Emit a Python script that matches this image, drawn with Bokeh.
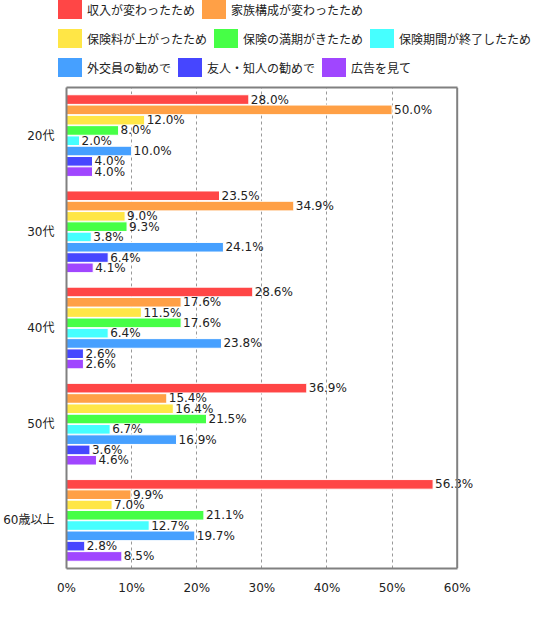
from bokeh.plotting import figure
from bokeh.layouts import column
from bokeh.core.properties import value
from bokeh.models import (ColumnDataSource, FactorRange, FixedTicker, Div,
                          PrintfTickFormatter, LinearAxis, Span)
from bokeh.transform import dodge
from bokeh.embed import file_html
from bokeh.resources import INLINE

FONT = "Noto Sans CJK JP"
NUM_FONT = "DejaVu Sans, Noto Sans CJK JP"

# age groups, top to bottom
ages = ["20代", "30代", "40代", "50代", "60歳以上"]

reasons = ["収入が変わったため", "家族構成が変わったため", "保険料が上がったため",
           "保険の満期がきたため", "保険期間が終了したため", "外交員の勧めで",
           "友人・知人の勧めで", "広告を見て"]
colors = ["#FF4646", "#FFA046", "#FFE646", "#46FF46", "#46FFFF", "#46A0FF",
          "#4646FF", "#A046FF"]

# percent values per reason, in the order of ages
income = [28.0, 23.5, 28.6, 36.9, 56.3]
family = [50.0, 34.9, 17.6, 15.4, 9.9]
premium = [12.0, 9.0, 11.5, 16.4, 7.0]
maturity = [8.0, 9.3, 17.6, 21.5, 21.1]
term_end = [2.0, 3.8, 6.4, 6.7, 12.7]
agent = [10.0, 24.1, 23.8, 16.9, 19.7]
friend = [4.0, 6.4, 2.6, 3.6, 2.8]
advert = [4.0, 4.1, 2.6, 4.6, 8.5]
series = [income, family, premium, maturity, term_end, agent, friend, advert]

x_ticks = [0, 10, 20, 30, 40, 50, 60]
legend_rows = [[0, 1], [2, 3, 4], [5, 6, 7]]
GRAY = "#808080"
TXT = "#222222"

# legend block (html), three rows like the original
rows_html = ""
for row in legend_rows:
    items = ""
    for k in row:
        items += ('<span style="display:inline-flex;align-items:center;'
                  'margin-right:7px;"><span style="display:inline-block;'
                  'width:24px;height:19px;background:%s;margin-right:5px;">'
                  '</span>%s</span>' % (colors[k], reasons[k]))
    rows_html += ('<div style="display:flex;align-items:center;height:19px;'
                  'margin-bottom:10px;white-space:nowrap;">%s</div>' % items)
legend = Div(text=('<div style="padding-left:58px;font-family:\'%s\';'
                   'font-size:12px;color:%s;line-height:19px;">%s</div>'
                   % (FONT, TXT, rows_html)),
             width=534, height=78, margin=0)

# main chart; x range runs a bit past 60% so the value labels are not clipped
p = figure(width=534, height=519, output_backend="svg", toolbar_location=None,
           y_range=FactorRange(factors=ages[::-1]), x_range=(0, 64.5),
           min_border_left=58, min_border_right=48, min_border_top=9,
           min_border_bottom=20, margin=0)

step = 0.107
for i, (name, vals, col) in enumerate(zip(reasons, series, colors)):
    src = ColumnDataSource(dict(age=ages, val=vals,
                                lab=["%.1f%%" % v for v in vals]))
    off = (3.5 - i) * step
    p.hbar(y=dodge("age", off, range=p.y_range), right="val", left=0,
           height=0.1, source=src, fill_color=col, line_color="white",
           line_width=1)
    p.text(x="val", y=dodge("age", off, range=p.y_range), text="lab",
           source=src, x_offset=2, text_baseline="middle",
           text_font_size="12px", text_color=TXT, text_font=value(NUM_FONT))

p.xaxis.ticker = FixedTicker(ticks=x_ticks)
p.xaxis.formatter = PrintfTickFormatter(format="%d%%")
p.xaxis.bounds = (0, 60)
for ax in (p.xaxis, p.yaxis):
    ax.axis_line_color = GRAY
    ax.axis_line_width = 2
    ax.major_tick_line_color = None
    ax.minor_tick_line_color = None
    ax.major_label_text_font = NUM_FONT
    ax.major_label_text_font_size = "12px"
    ax.major_label_text_color = TXT
p.yaxis.major_label_standoff = 6
p.xaxis.major_label_standoff = 6

# top and right edges of the box
top = LinearAxis(bounds=(0, 60), ticker=FixedTicker(ticks=[]),
                 axis_line_color=GRAY, axis_line_width=2,
                 major_tick_line_color=None, minor_tick_line_color=None,
                 major_label_text_font_size="0px", major_label_standoff=0)
p.add_layout(top, "above")
p.add_layout(Span(location=60, dimension="height", line_color=GRAY,
                  line_width=2))

p.xgrid.ticker = FixedTicker(ticks=x_ticks[1:-1])
p.xgrid.grid_line_color = "#999999"
p.xgrid.grid_line_dash = "3 3"
p.ygrid.grid_line_color = None
p.outline_line_color = None

page = column(legend, p, spacing=0)

open("out.html", "w").write(file_html(page, INLINE))
